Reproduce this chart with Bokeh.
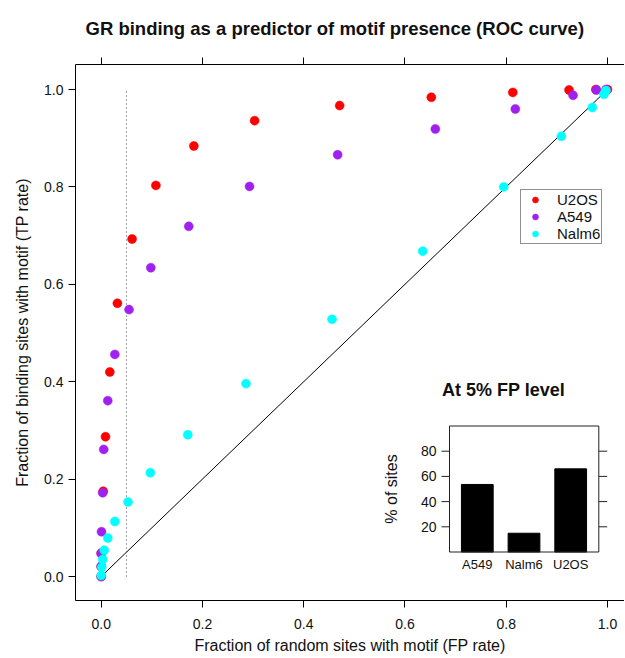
from bokeh.plotting import figure
from bokeh.models import (Range1d, LinearAxis, FixedTicker, PrintfTickFormatter,
                          Legend, LegendItem)
from bokeh.core.properties import value
from bokeh.embed import file_html
from bokeh.resources import INLINE
import math

# ---------------- data ----------------
TITLE = "GR binding as a predictor of motif presence (ROC curve)"
X_LABEL = "Fraction of random sites with motif (FP rate)"
Y_LABEL = "Fraction of binding sites with motif (TP rate)"
AXIS_TICKS = [0.0, 0.2, 0.4, 0.6, 0.8, 1.0]

series_names = ["U2OS", "A549", "Nalm6"]
series_colors = ["#FF0000", "#A020F0", "#00FFFF"]

u2os_fp = [0.0, 0.0, 0.0, 0.004, 0.0085, 0.017, 0.032, 0.061, 0.108, 0.183,
           0.303, 0.471, 0.652, 0.813, 0.924, 0.977, 1.0]
u2os_tp = [0.0, 0.020, 0.048, 0.175, 0.287, 0.420, 0.561, 0.693, 0.803, 0.884,
           0.936, 0.967, 0.984, 0.994, 0.999, 1.0, 1.0]

a549_fp = [0.0, 0.0, 0.0, 0.0006, 0.003, 0.005, 0.013, 0.027, 0.055, 0.098,
           0.173, 0.293, 0.467, 0.660, 0.818, 0.932, 0.978, 0.997]
a549_tp = [0.0, 0.021, 0.047, 0.092, 0.172, 0.261, 0.361, 0.456, 0.548, 0.634,
           0.719, 0.801, 0.866, 0.919, 0.960, 0.988, 0.999, 1.0]

nalm6_fp = [0.0, 0.001, 0.003, 0.006, 0.013, 0.027, 0.053, 0.097, 0.171, 0.286,
            0.456, 0.635, 0.795, 0.909, 0.970, 0.993, 0.997]
nalm6_tp = [0.002, 0.019, 0.035, 0.054, 0.079, 0.113, 0.153, 0.213, 0.291, 0.396,
            0.528, 0.668, 0.800, 0.904, 0.963, 0.990, 0.998]

DIAG = [0.0, 1.0]
FP_CUTOFF = 0.05

INSET_TITLE = "At 5% FP level"
INSET_YLABEL = "% of sites"
inset_cats = ["A549", "Nalm6", "U2OS"]
inset_vals = [53.6, 14.9, 66.0]
INSET_TICKS = [20, 40, 60, 80]
INSET_YMAX = 100

# ---------------- geometry (canvas pixels) ----------------
W, H = 624, 657
FR_L, FR_R, FR_T, FR_B = 75, W, 64, 600
X0PX, KX = 100.7, 506.3      # main: x=0 pixel, px per unit
Y0PX, KY = 576.0, 487.0      # main: y=0 pixel, px per unit
IX1PX, IKX = 476.8, 46.7     # inset: bar 1 centre pixel, px per unit
IY0PX, IKY = 551.5, 1.26     # inset: y=0 pixel, px per unit

def mx(px):
    return (px - X0PX) / KX

def my(py):
    return (Y0PX - py) / KY

def ix(px):
    return 1 + (px - IX1PX) / IKX

def iy(py):
    return (IY0PX - py) / IKY

FONT = "Liberation Sans"
TXT = "#111111"

p = figure(width=W, height=H, output_backend="svg", toolbar_location=None,
           x_range=Range1d(mx(FR_L), mx(FR_R)), y_range=Range1d(my(FR_B), my(FR_T)),
           min_border_left=FR_L, min_border_right=W - FR_R,
           min_border_top=FR_T, min_border_bottom=H - FR_B)
p.outline_line_color = None
p.grid.visible = False
p.background_fill_color = "white"
p.border_fill_color = "white"

bottom_axis = p.below[0]
left_axis = p.left[0]
top_axis = LinearAxis()
p.add_layout(top_axis, "above")

for ax in [bottom_axis, left_axis, top_axis]:
    ax.ticker = FixedTicker(ticks=AXIS_TICKS)
    ax.formatter = PrintfTickFormatter(format="%.1f")
    ax.axis_line_color = "black"
    ax.major_tick_line_color = "black"
    ax.minor_tick_line_color = None
    ax.major_tick_in = 0
    ax.major_tick_out = 7
    ax.major_label_text_font = FONT
    ax.major_label_text_font_size = "14px"
    ax.major_label_text_color = TXT
    ax.axis_label_text_font = FONT
    ax.axis_label_text_font_size = "16px"
    ax.axis_label_text_font_style = "normal"
    ax.axis_label_text_color = TXT

top_axis.major_label_overrides = {t: "" for t in AXIS_TICKS}
top_axis.major_label_standoff = 0

bottom_axis.axis_label = X_LABEL
bottom_axis.major_label_standoff = 11
bottom_axis.axis_label_standoff = 5
left_axis.axis_label = Y_LABEL
left_axis.major_label_standoff = 5
left_axis.axis_label_standoff = 10
left_axis.major_label_orientation = "horizontal"

# title
p.title.text = TITLE
p.title.text_font = FONT
p.title.text_font_size = "18.5px"
p.title.text_font_style = "bold"
p.title.text_color = TXT
p.title.align = "left"
p.title.offset = 10
p.title.vertical_align = "top"
p.title.standoff = 34

# reference lines
p.line(x=DIAG, y=DIAG, line_color="black", line_width=1)
p.segment(x0=[FP_CUTOFF], y0=[DIAG[0]], x1=[FP_CUTOFF], y1=[DIAG[1]],
          line_color="#444444", line_width=1, line_dash="1 3")

# ROC points
renderers = []
for fp, tp, col in [(u2os_fp, u2os_tp, series_colors[0]),
                    (a549_fp, a549_tp, series_colors[1]),
                    (nalm6_fp, nalm6_tp, series_colors[2])]:
    r = p.scatter(x=fp, y=tp, size=9, marker="circle", fill_color=col,
                  line_color=col, line_width=0.5)
    renderers.append(r)

legend = Legend(items=[LegendItem(label=n, renderers=[r])
                       for n, r in zip(series_names, renderers)],
                location=(520 - FR_L, FR_B - 244))
legend.border_line_color = "#222222"
legend.border_line_width = 1
legend.background_fill_color = "white"
legend.background_fill_alpha = 1
legend.padding = 1
legend.margin = 0
legend.spacing = 0
legend.glyph_width = 26
legend.glyph_height = 15
legend.label_height = 15
legend.label_standoff = 9
legend.label_text_font = FONT
legend.label_text_font_size = "15px"
legend.label_text_color = TXT
p.add_layout(legend, "center")

# ---------------- inset bar chart ----------------
p.extra_x_ranges = {"ix": Range1d(ix(FR_L), ix(FR_R))}
p.extra_y_ranges = {"iy": Range1d(iy(FR_B), iy(FR_T))}
cat_pos = [i + 1 for i in range(len(inset_cats))]
box_l, box_r = ix(449.0), ix(598.3)
nt = len(INSET_TICKS)

p.vbar(x=cat_pos, top=inset_vals, bottom=0, width=0.68, fill_color="black",
       line_color="black", x_range_name="ix", y_range_name="iy")
p.quad(left=[box_l], right=[box_r], bottom=[0], top=[INSET_YMAX], fill_color=None,
       line_color="#222222", line_width=1, x_range_name="ix", y_range_name="iy")
p.segment(x0=[box_l] * nt, x1=[ix(441)] * nt, y0=INSET_TICKS, y1=INSET_TICKS,
          line_color="#222222", x_range_name="ix", y_range_name="iy")
p.segment(x0=[box_r] * nt, x1=[ix(606.7)] * nt, y0=INSET_TICKS, y1=INSET_TICKS,
          line_color="#222222", x_range_name="ix", y_range_name="iy")
p.text(x=[ix(436)] * nt, y=INSET_TICKS, text=[str(t) for t in INSET_TICKS],
       text_align="right", text_baseline="middle",
       text_font=value(FONT), text_font_size="14px", text_color=TXT,
       x_range_name="ix", y_range_name="iy")
p.text(x=cat_pos, y=[iy(564.3)] * len(cat_pos), text=inset_cats,
       text_align="center", text_baseline="middle",
       text_font=value(FONT), text_font_size="13px", text_color=TXT,
       x_range_name="ix", y_range_name="iy")
p.text(x=[ix(390.7)], y=[INSET_YMAX / 2], text=[INSET_YLABEL], angle=math.pi / 2,
       text_align="center", text_baseline="middle",
       text_font=value(FONT), text_font_size="16px", text_color=TXT,
       x_range_name="ix", y_range_name="iy")
p.text(x=[ix(503)], y=[iy(389)], text=[INSET_TITLE], text_align="center",
       text_baseline="middle", text_font=value(FONT), text_font_size="18px",
       text_font_style="bold", text_color=TXT,
       x_range_name="ix", y_range_name="iy")

open("out.html", "w").write(file_html(p, INLINE))
